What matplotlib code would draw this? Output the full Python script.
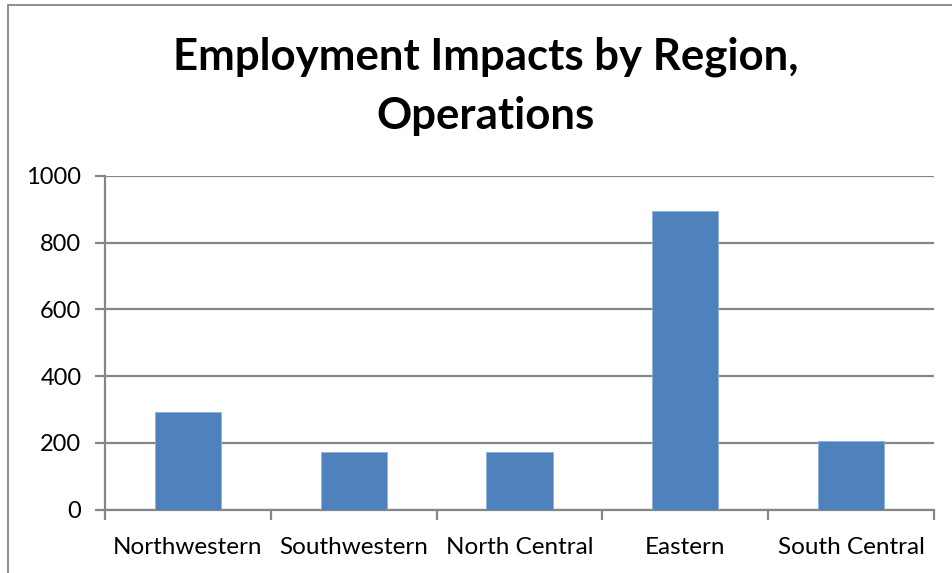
import numpy as np
import matplotlib.pyplot as plt
from matplotlib.patches import Rectangle

plt.rcParams['font.family'] = ['Lato', 'DejaVu Sans']

regions = ['Northwestern', 'Southwestern', 'North Central', 'Eastern', 'South Central']
jobs = [292, 171, 173, 895, 204]
yticks = [0, 200, 400, 600, 800, 1000]

grey = '#868686'
bar_color = '#4F81BD'

fig = plt.figure(figsize=(9.52, 5.73), dpi=100)
ax = fig.add_axes([105 / 952, 1 - 509.5 / 573, 829 / 952, 333.5 / 573])

# outer chart-area border (runs off the right and bottom edges)
fig.patches.append(Rectangle((8 / 952, -0.05), 1.2, 1 - 5 / 573 + 0.05,
                             transform=fig.transFigure, fill=False,
                             edgecolor=grey, linewidth=1.3, zorder=0))

x = np.arange(len(regions))
ax.bar(x, jobs, width=0.4, color=bar_color, edgecolor='#8DB0DA', linewidth=0.6, zorder=3)

ax.set_xlim(-0.5, len(regions) - 0.5)
ax.set_ylim(0, 1000)
ax.set_yticks(yticks)
ax.set_yticklabels([str(v) for v in yticks], fontsize=17)
ax.yaxis.grid(True, color=grey, linewidth=1.6, zorder=0)
ax.set_axisbelow(True)

# category labels centred, tick marks on category boundaries
ax.set_xticks(x)
ax.set_xticklabels(regions, fontsize=17.5)
ax.tick_params(axis='x', length=0, pad=20)
ax.set_xticks(np.arange(-0.5, len(regions)), minor=True)
ax.tick_params(axis='x', which='minor', length=7, width=1.6, color=grey)
ax.tick_params(axis='y', length=7, width=1.6, color=grey, pad=10)

for side in ('top', 'right'):
    ax.spines[side].set_visible(False)
for side in ('left', 'bottom'):
    ax.spines[side].set_color(grey)
    ax.spines[side].set_linewidth(1.6)

fig.text(486 / 952, 1 - 70 / 573, 'Employment Impacts by Region,', ha='center', va='baseline',
         fontsize=31.5, fontweight='bold')
fig.text(486 / 952, 1 - 129 / 573, 'Operations', ha='center', va='baseline',
         fontsize=31.5, fontweight='bold')

fig.savefig('out.png', dpi=100)
